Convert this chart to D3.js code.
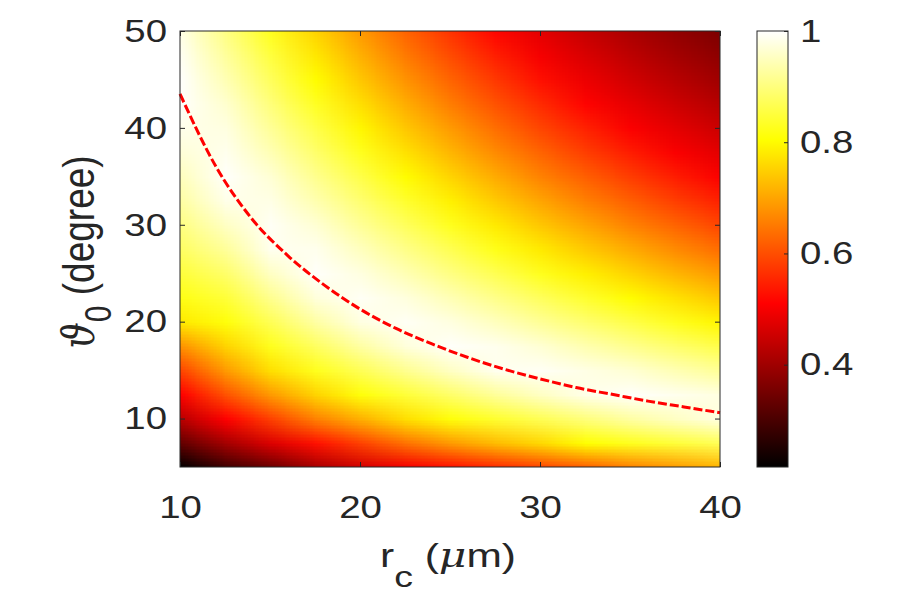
<!DOCTYPE html>
<html>
<head>
<meta charset="utf-8">
<script src="https://cdn.jsdelivr.net/npm/d3@7"></script>
<style>
  body { margin: 0; background: #fff; }
  svg text { font-family: "Liberation Sans", Arial, sans-serif; fill: #262626; }
</style>
</head>
<body>
<svg id="chart" width="900" height="600"></svg>
<script>
// r_c (um) grid along x
const rcValues = [10, 12.5, 15, 17.5, 20, 22.5, 25, 27.5, 30, 32.5, 35, 37.5, 40];
// theta_0 (degree) grid along y
const thetaValues = [5, 7.5, 10, 12.5, 15, 17.5, 20, 22.5, 25, 27.5, 30, 32.5, 35, 37.5, 40, 42.5, 45, 47.5, 50];

// one array per r_c column, theta 5 -> 50
const zColumns = [
  [0.22, 0.33, 0.43, 0.51, 0.59, 0.68, 0.78, 0.82, 0.85, 0.88, 0.905, 0.93, 0.95, 0.97, 0.985, 0.997, 0.998, 0.99, 0.98],
  [0.29, 0.405, 0.51, 0.604, 0.687, 0.754, 0.812, 0.848, 0.885, 0.922, 0.955, 0.983, 0.997, 0.987, 0.977, 0.963, 0.943, 0.924, 0.905],
  [0.34, 0.47, 0.585, 0.687, 0.768, 0.826, 0.87, 0.915, 0.955, 0.988, 0.993, 0.981, 0.967, 0.943, 0.92, 0.898, 0.875, 0.852, 0.827],
  [0.41, 0.529, 0.66, 0.754, 0.826, 0.878, 0.93, 0.973, 0.997, 0.987, 0.967, 0.939, 0.913, 0.886, 0.86, 0.831, 0.802, 0.777, 0.754],
  [0.46, 0.585, 0.714, 0.812, 0.87, 0.93, 0.978, 0.993, 0.977, 0.951, 0.92, 0.89, 0.86, 0.827, 0.795, 0.767, 0.74, 0.713, 0.687],
  [0.50, 0.641, 0.768, 0.848, 0.915, 0.973, 0.993, 0.975, 0.943, 0.909, 0.875, 0.839, 0.802, 0.77, 0.74, 0.71, 0.68, 0.651, 0.625],
  [0.53, 0.687, 0.812, 0.885, 0.955, 0.997, 0.977, 0.943, 0.905, 0.868, 0.827, 0.788, 0.754, 0.72, 0.687, 0.654, 0.625, 0.596, 0.569],
  [0.56, 0.727, 0.841, 0.922, 0.988, 0.987, 0.951, 0.909, 0.868, 0.823, 0.781, 0.743, 0.707, 0.67, 0.637, 0.605, 0.574, 0.545, 0.516],
  [0.59, 0.76, 0.87, 0.955, 0.993, 0.967, 0.92, 0.875, 0.827, 0.781, 0.74, 0.70, 0.66, 0.625, 0.59, 0.558, 0.527, 0.50, 0.479],
  [0.62, 0.804, 0.90, 0.983, 0.981, 0.939, 0.89, 0.839, 0.788, 0.743, 0.70, 0.657, 0.619, 0.582, 0.548, 0.514, 0.489, 0.466, 0.444],
  [0.66, 0.826, 0.93, 0.997, 0.967, 0.913, 0.86, 0.802, 0.754, 0.707, 0.66, 0.619, 0.579, 0.542, 0.507, 0.482, 0.457, 0.434, 0.413],
  [0.69, 0.848, 0.955, 0.987, 0.943, 0.886, 0.827, 0.77, 0.72, 0.67, 0.625, 0.582, 0.542, 0.505, 0.479, 0.452, 0.428, 0.405, 0.385],
  [0.72, 0.87, 0.978, 0.977, 0.92, 0.86, 0.795, 0.74, 0.687, 0.637, 0.59, 0.548, 0.507, 0.479, 0.45, 0.425, 0.40, 0.38, 0.36]
];

// dashed red line (maximum)
const ridgeRc = [10, 12, 14, 16, 18, 20, 22, 24, 26, 28, 30, 32, 34, 36, 38, 40];
const ridgeTheta = [43.5, 36.0, 30.6, 26.8, 23.8, 21.3, 19.3, 17.7, 16.3, 15.1, 14.1, 13.2, 12.5, 11.8, 11.2, 10.6];

const xTicks = [10, 20, 30, 40];
const yTicks = [10, 20, 30, 40, 50];
const cbTicks = [0.4, 0.6, 0.8, 1];
const cbRange = [0.216, 1];

var margin = { left: 180, right: 180, top: 31, bottom: 133 };
var width = 900 - margin.left - margin.right;
var height = 600 - margin.top - margin.bottom;
var tickFont = 32;
var stretch = 1.2; // text in the picture is a bit wide

var svg = d3.select("#chart");

var x = d3.scaleLinear().domain([10, 40]).range([margin.left, margin.left + width]);
var y = d3.scaleLinear().domain([5, 50]).range([margin.top + height, margin.top]);

// matlab "hot"
var span = cbRange[1] - cbRange[0];
var color = d3.scaleLinear()
  .domain([cbRange[0], cbRange[0] + 0.375 * span, cbRange[0] + 0.75 * span, cbRange[1]])
  .range(["#000000", "#ff0000", "#ffff00", "#ffffff"])
  .clamp(true);

// heat map: one pixel per grid point, then scaled up smooth
var nx = rcValues.length, ny = thetaValues.length;
var small = document.createElement("canvas");
small.width = nx;
small.height = ny;
var sctx = small.getContext("2d");
var img = sctx.createImageData(nx, ny);
zColumns.forEach(function (col, i) {
  col.forEach(function (v, j) {
    var c = d3.rgb(color(v));
    var k = ((ny - 1 - j) * nx + i) * 4;
    img.data[k] = c.r;
    img.data[k + 1] = c.g;
    img.data[k + 2] = c.b;
    img.data[k + 3] = 255;
  });
});
sctx.putImageData(img, 0, 0);

var dx = (rcValues[1] - rcValues[0]) / 2;
var dy = (thetaValues[1] - thetaValues[0]) / 2;
var x0 = x(rcValues[0] - dx), x1 = x(rcValues[nx - 1] + dx);
var y0 = y(thetaValues[ny - 1] + dy), y1 = y(thetaValues[0] - dy);
var big = document.createElement("canvas");
big.width = Math.round(x1 - x0);
big.height = Math.round(y1 - y0);
var bctx = big.getContext("2d");
bctx.imageSmoothingEnabled = true;
bctx.drawImage(small, 0, 0, big.width, big.height);

svg.append("clipPath").attr("id", "plotClip")
  .append("rect")
  .attr("x", x(10)).attr("y", y(50))
  .attr("width", x(40) - x(10)).attr("height", y(5) - y(50));

svg.append("image")
  .attr("clip-path", "url(#plotClip)")
  .attr("x", x0).attr("y", y0)
  .attr("width", x1 - x0).attr("height", y1 - y0)
  .attr("preserveAspectRatio", "none")
  .attr("href", big.toDataURL());

// dashed ridge line
var ridge = ridgeRc.map(function (r, i) { return [r, ridgeTheta[i]]; });
svg.append("path")
  .datum(ridge)
  .attr("fill", "none")
  .attr("stroke", "#ff0000")
  .attr("stroke-width", 3)
  .attr("stroke-dasharray", "9,3")
  .attr("d", d3.line().x(function (d) { return x(d[0]); }).y(function (d) { return y(d[1]); }).curve(d3.curveMonotoneX));

// axes, ticks inside like matlab
function styleAxis(g) {
  g.select(".domain").remove();
  g.selectAll("line").attr("stroke", "#262626");
  g.selectAll("text")
    .attr("font-size", tickFont).attr("fill", "#262626")
    .style("font-family", "'Liberation Sans', Arial, sans-serif")
    .attr("x", function () { return (+d3.select(this).attr("x") || 0) / stretch; })
    .attr("transform", "scale(" + stretch + ",1)");
  g.attr("font-size", null).attr("font-family", null);
}

svg.append("g")
  .attr("transform", "translate(0," + y(5) + ")")
  .call(d3.axisBottom(x).tickValues(xTicks).tickSize(-5).tickPadding(28))
  .call(styleAxis);
svg.append("g")
  .attr("transform", "translate(0," + y(50) + ")")
  .call(d3.axisTop(x).tickValues(xTicks).tickSize(-5).tickFormat(""))
  .call(styleAxis);
svg.append("g")
  .attr("transform", "translate(" + x(10) + ",0)")
  .call(d3.axisLeft(y).tickValues(yTicks).tickSize(-5).tickPadding(13))
  .call(styleAxis);
svg.append("g")
  .attr("transform", "translate(" + x(40) + ",0)")
  .call(d3.axisRight(y).tickValues(yTicks).tickSize(-5).tickFormat(""))
  .call(styleAxis);

svg.append("rect")
  .attr("x", x(10)).attr("y", y(50))
  .attr("width", x(40) - x(10)).attr("height", y(5) - y(50))
  .attr("fill", "none").attr("stroke", "#262626").attr("stroke-width", 1);

// colorbar
var cbX = 757, cbW = 31;
var cbScale = d3.scaleLinear().domain(cbRange).range([y(5), y(50)]);
var grad = svg.append("defs").append("linearGradient")
  .attr("id", "hotGrad").attr("x1", 0).attr("y1", 1).attr("x2", 0).attr("y2", 0);
color.domain().forEach(function (d, i) {
  grad.append("stop")
    .attr("offset", (d - cbRange[0]) / span)
    .attr("stop-color", color.range()[i]);
});
svg.append("rect")
  .attr("x", cbX).attr("y", cbScale(cbRange[1]))
  .attr("width", cbW).attr("height", cbScale(cbRange[0]) - cbScale(cbRange[1]))
  .attr("fill", "url(#hotGrad)")
  .attr("stroke", "#262626").attr("stroke-width", 1);
svg.append("g")
  .attr("transform", "translate(" + (cbX + cbW) + ",0)")
  .call(d3.axisRight(cbScale).tickValues(cbTicks).tickSize(-4).tickPadding(12)
    .tickFormat(function (d) { return d === 1 ? "1" : d3.format(".1f")(d); }))
  .call(styleAxis);

// axis labels
var xl = svg.append("text")
  .attr("transform", "translate(448,567) scale(1.25,1)")
  .attr("text-anchor", "middle")
  .attr("font-size", 34);
xl.append("tspan").text("r");
xl.append("tspan").attr("font-size", 30).attr("dy", 20).text("c");
xl.append("tspan").attr("dy", -20).text(" (");
xl.append("tspan").attr("font-style", "italic").style("font-family", "'DejaVu Serif', serif").text("μ");
xl.append("tspan").text("m)");

var yl = svg.append("text")
  .attr("transform", "translate(94,252) scale(1.2,1) rotate(-90)")
  .attr("text-anchor", "middle")
  .attr("font-size", 37);
yl.append("tspan").attr("font-style", "italic").style("font-family", "'DejaVu Serif', serif").text("ϑ");
yl.append("tspan").attr("font-size", 30).attr("dy", 14).text("0");
yl.append("tspan").attr("dy", -14).text(" (degree)");
</script>
</body>
</html>
